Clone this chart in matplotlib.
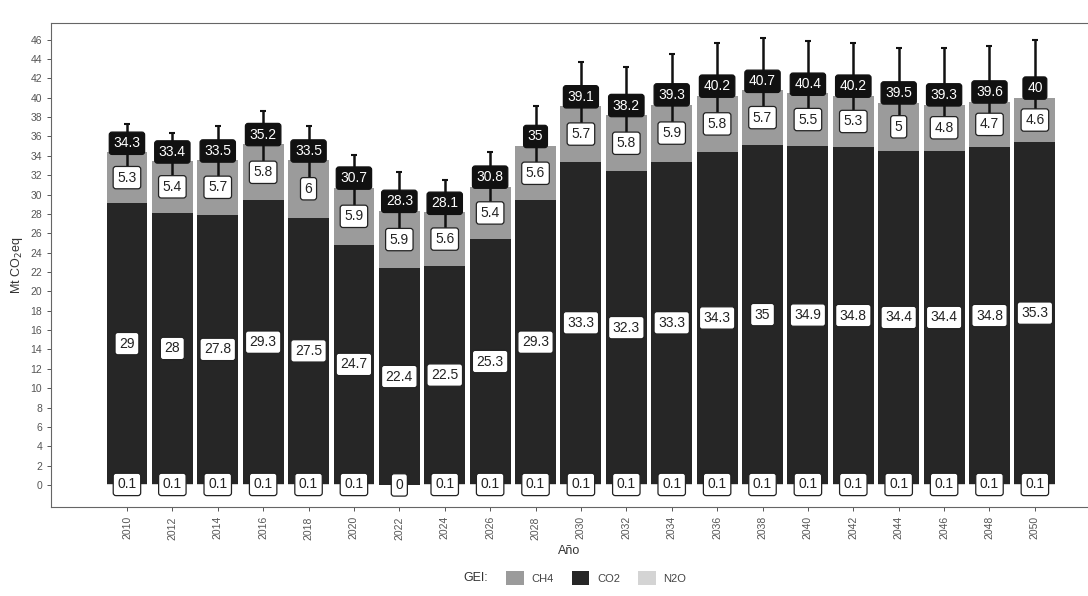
import numpy as np
import matplotlib
matplotlib.use('Agg')
import matplotlib.pyplot as plt
from matplotlib.patches import Patch

plt.rcParams['font.family'] = ['Liberation Sans', 'DejaVu Sans']

years = [2010, 2012, 2014, 2016, 2018, 2020, 2022, 2024, 2026, 2028, 2030,
         2032, 2034, 2036, 2038, 2040, 2042, 2044, 2046, 2048, 2050]
n2o = [0.1, 0.1, 0.1, 0.1, 0.1, 0.1, 0, 0.1, 0.1, 0.1, 0.1,
       0.1, 0.1, 0.1, 0.1, 0.1, 0.1, 0.1, 0.1, 0.1, 0.1]
co2 = [29, 28, 27.8, 29.3, 27.5, 24.7, 22.4, 22.5, 25.3, 29.3, 33.3,
       32.3, 33.3, 34.3, 35, 34.9, 34.8, 34.4, 34.4, 34.8, 35.3]
ch4 = [5.3, 5.4, 5.7, 5.8, 6, 5.9, 5.9, 5.6, 5.4, 5.6, 5.7,
       5.8, 5.9, 5.8, 5.7, 5.5, 5.3, 5, 4.8, 4.7, 4.6]
total = [34.3, 33.4, 33.5, 35.2, 33.5, 30.7, 28.3, 28.1, 30.8, 35, 39.1,
         38.2, 39.3, 40.2, 40.7, 40.4, 40.2, 39.5, 39.3, 39.6, 40]
err_high = [37.3, 36.4, 37.1, 38.6, 37.1, 34.1, 32.3, 31.5, 34.4, 39.2, 43.7,
            43.2, 44.5, 45.7, 46.2, 45.9, 45.7, 45.1, 45.1, 45.4, 46.0]
err_low = [31.3, 30.6, 30.7, 32.0, 30.7, 28.0, 25.5, 25.3, 28.0, 32.0, 35.6,
           34.7, 35.7, 36.4, 37.1, 36.9, 36.7, 36.2, 36.1, 36.2, 36.7]

col_ch4 = '#9b9b9b'
col_co2 = '#262626'
col_n2o = '#d4d4d4'

x = np.arange(len(years))
n2o_a = np.array(n2o)
co2_a = np.array(co2)
ch4_a = np.array(ch4)

fig = plt.figure(figsize=(10.88, 5.96), dpi=100)
ax = fig.add_axes([0.047, 0.149, 0.953, 0.812])

w = 0.9
ax.bar(x, n2o_a, width=w, color=col_n2o, zorder=2)
ax.bar(x, co2_a, width=w, bottom=n2o_a, color=col_co2, zorder=2)
ax.bar(x, ch4_a, width=w, bottom=n2o_a + co2_a, color=col_ch4, zorder=2)

# barras de error
tot = np.array(total)
ax.errorbar(x, tot, yerr=[tot - np.array(err_low), np.array(err_high) - tot],
            fmt='none', ecolor='#111111', elinewidth=1.8, capsize=2.5,
            capthick=1.5, zorder=3)

white_box = dict(boxstyle='round,pad=0.3,rounding_size=0.2', fc='white',
                 ec='#222222', lw=0.9)
black_box = dict(boxstyle='round,pad=0.3,rounding_size=0.2', fc='#111111',
                 ec='#111111', lw=0.9)

for i in x:
    ax.text(i, n2o_a[i] / 2, f'{n2o[i]:g}', ha='center', va='center',
            fontsize=10, color='#222222', bbox=white_box, zorder=4)
    ax.text(i, n2o_a[i] + co2_a[i] / 2, f'{co2[i]:g}', ha='center', va='center',
            fontsize=10, color='#222222', bbox=white_box, zorder=4)
    ax.text(i, n2o_a[i] + co2_a[i] + ch4_a[i] / 2, f'{ch4[i]:g}', ha='center',
            va='center', fontsize=10, color='#222222', bbox=white_box, zorder=4)
    ax.text(i, total[i] + 1.0, f'{total[i]:g}', ha='center', va='center',
            fontsize=10, color='white', bbox=black_box, zorder=4)

ax.set_xlim(-1.67, 21.17)
ax.set_ylim(-2.3, 47.7)
ax.set_yticks(np.arange(0, 47, 2))
ax.set_xticks(x)
ax.set_xticklabels([str(y) for y in years], rotation=90)
ax.tick_params(axis='both', labelsize=7.5, labelcolor='#555555',
               color='#555555', length=3, width=0.7)

for side in ['top', 'left', 'bottom']:
    ax.spines[side].set_color('#666666')
    ax.spines[side].set_linewidth(0.8)
ax.spines['right'].set_visible(False)

ax.set_xlabel('Año', fontsize=9, color='#333333', labelpad=4)
ax.set_ylabel('Mt CO$_2$eq', fontsize=9, color='#333333', labelpad=4)

fig.text(0.437, 0.03, 'GEI:', fontsize=9, color='#333333',
         ha='center', va='center')
handles = [Patch(facecolor=col_ch4, label='CH4'),
           Patch(facecolor=col_co2, label='CO2'),
           Patch(facecolor=col_n2o, label='N2O')]
leg = fig.legend(handles=handles, loc='center', bbox_to_anchor=(0.548, 0.03),
                 ncol=3, frameon=False, fontsize=8, handlelength=1.6,
                 handleheight=1.6, columnspacing=1.6, handletextpad=0.7)
for t in leg.get_texts():
    t.set_color('#444444')

fig.savefig('out.png', dpi=100)
